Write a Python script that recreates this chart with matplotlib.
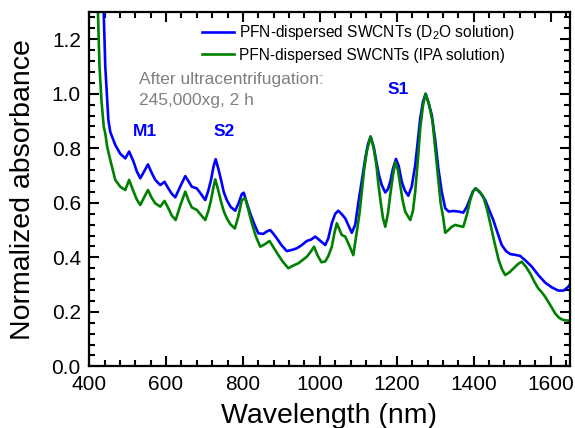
import matplotlib
matplotlib.use('Agg')
import matplotlib.pyplot as plt
from matplotlib.ticker import MultipleLocator

plt.rcParams['font.family'] = ['Liberation Sans', 'DejaVu Sans']
plt.rcParams['mathtext.fontset'] = 'custom'
plt.rcParams['mathtext.rm'] = 'Liberation Sans'

# PFN-dispersed SWCNTs in D2O (blue)
wl_d2o = [430, 438, 442, 447, 450, 455, 468, 481, 494, 504, 515, 524, 533, 543, 553,
          562, 572, 585, 596, 606, 615, 624, 637, 650, 658, 667, 680, 691, 702, 710,
          717, 723, 729, 736, 743, 750, 758, 768, 780, 789, 797, 802, 810, 819, 830,
          840, 853, 862, 871, 880, 888, 900, 914, 927, 940, 953, 966, 977, 988, 1000,
          1014, 1022, 1031, 1040, 1048, 1057, 1066, 1075, 1083, 1092, 1100, 1109,
          1118, 1125, 1132, 1140, 1147, 1154, 1161, 1170, 1177, 1183, 1190, 1198,
          1205, 1213, 1221, 1230, 1239, 1248, 1255, 1261, 1268, 1275, 1283, 1291,
          1300, 1308, 1317, 1326, 1335, 1347, 1360, 1373, 1382, 1391, 1398, 1405,
          1418, 1430, 1440, 1451, 1462, 1473, 1484, 1495, 1508, 1521, 1535, 1551,
          1568, 1586, 1603, 1620, 1634, 1646, 1650]
abs_d2o = [1.60, 1.295, 1.10, 0.977, 0.904, 0.860, 0.812, 0.780, 0.763, 0.788, 0.753,
           0.715, 0.690, 0.715, 0.741, 0.712, 0.684, 0.665, 0.677, 0.653, 0.633, 0.620,
           0.660, 0.698, 0.680, 0.659, 0.653, 0.632, 0.610, 0.645, 0.684, 0.730, 0.760,
           0.725, 0.684, 0.640, 0.610, 0.585, 0.571, 0.600, 0.632, 0.637, 0.600, 0.561,
           0.520, 0.488, 0.486, 0.495, 0.500, 0.485, 0.470, 0.445, 0.423, 0.427, 0.433,
           0.445, 0.460, 0.465, 0.476, 0.462, 0.445, 0.470, 0.525, 0.560, 0.571, 0.558,
           0.543, 0.515, 0.490, 0.520, 0.600, 0.680, 0.763, 0.815, 0.843, 0.805, 0.751,
           0.700, 0.665, 0.638, 0.650, 0.677, 0.725, 0.761, 0.735, 0.677, 0.645, 0.626,
           0.660, 0.739, 0.830, 0.910, 0.970, 1.000, 0.965, 0.922, 0.830, 0.727, 0.640,
           0.580, 0.568, 0.570, 0.568, 0.564, 0.585, 0.617, 0.642, 0.653, 0.635, 0.610,
           0.575, 0.537, 0.490, 0.445, 0.423, 0.412, 0.409, 0.405, 0.388, 0.366, 0.335,
           0.307, 0.290, 0.278, 0.278, 0.292, 0.300]

# PFN-dispersed SWCNTs in IPA (green)
wl_ipa = [418, 423, 427, 432, 438, 442, 447, 455, 468, 481, 494, 504, 515, 524, 533,
          543, 553, 562, 572, 585, 596, 606, 615, 625, 637, 650, 658, 667, 680, 691,
          702, 710, 717, 723, 728, 736, 743, 750, 758, 768, 779, 788, 797, 806, 814,
          823, 834, 845, 857, 869, 878, 888, 903, 918, 931, 944, 955, 966, 976, 985,
          993, 1004, 1014, 1022, 1031, 1038, 1044, 1050, 1057, 1066, 1076, 1087, 1096,
          1103, 1109, 1115, 1122, 1132, 1140, 1147, 1152, 1158, 1164, 1170, 1177,
          1183, 1190, 1196, 1203, 1209, 1215, 1222, 1235, 1242, 1248, 1255, 1261,
          1268, 1275, 1284, 1293, 1300, 1308, 1314, 1321, 1326, 1334, 1343, 1352,
          1362, 1373, 1382, 1391, 1398, 1405, 1415, 1425, 1434, 1443, 1454, 1465,
          1474, 1482, 1493, 1504, 1515, 1525, 1536, 1547, 1558, 1568, 1577, 1586,
          1599, 1612, 1622, 1633, 1650]
abs_ipa = [1.60, 1.295, 1.10, 0.977, 0.879, 0.855, 0.805, 0.757, 0.684, 0.659, 0.647,
           0.684, 0.643, 0.612, 0.592, 0.620, 0.647, 0.620, 0.598, 0.586, 0.607, 0.580,
           0.553, 0.537, 0.590, 0.641, 0.610, 0.583, 0.574, 0.555, 0.537, 0.570, 0.610,
           0.655, 0.686, 0.645, 0.604, 0.570, 0.543, 0.520, 0.506, 0.550, 0.610, 0.617,
           0.575, 0.525, 0.475, 0.439, 0.448, 0.460, 0.440, 0.417, 0.385, 0.360, 0.370,
           0.378, 0.390, 0.402, 0.420, 0.439, 0.410, 0.382, 0.385, 0.405, 0.439, 0.490,
           0.525, 0.505, 0.482, 0.476, 0.445, 0.408, 0.494, 0.560, 0.641, 0.720, 0.788,
           0.843, 0.800, 0.739, 0.670, 0.604, 0.545, 0.512, 0.560, 0.629, 0.700, 0.749,
           0.720, 0.665, 0.610, 0.567, 0.537, 0.570, 0.641, 0.760, 0.873, 0.955, 1.000,
           0.960, 0.898, 0.800, 0.690, 0.600, 0.543, 0.490, 0.500, 0.512, 0.519, 0.515,
           0.512, 0.555, 0.610, 0.640, 0.653, 0.642, 0.622, 0.580, 0.525, 0.455, 0.390,
           0.355, 0.335, 0.345, 0.360, 0.375, 0.384, 0.365, 0.341, 0.310, 0.286, 0.272,
           0.255, 0.225, 0.194, 0.178, 0.170, 0.167]

fig = plt.figure(figsize=(5.75, 4.28), dpi=100)
ax = fig.add_axes([0.155, 0.144, 0.836, 0.828])

ax.plot(wl_d2o, abs_d2o, color='#0000ff', lw=1.9,
        label='PFN-dispersed SWCNTs (D$_2$O solution)')
ax.plot(wl_ipa, abs_ipa, color='#008000', lw=1.9,
        label='PFN-dispersed SWCNTs (IPA solution)')

ax.set_xlim(400, 1650)
ax.set_ylim(0, 1.3)
ax.xaxis.set_major_locator(MultipleLocator(200))
ax.xaxis.set_minor_locator(MultipleLocator(40))
ax.yaxis.set_major_locator(MultipleLocator(0.2))
ax.yaxis.set_minor_locator(MultipleLocator(0.04))
ax.yaxis.set_major_formatter(plt.FormatStrFormatter('%.1f'))
ax.tick_params(which='both', direction='in', top=True, right=True, width=1.5)
ax.tick_params(which='major', length=7, labelsize=15)
ax.tick_params(axis='x', which='major', pad=6)
ax.tick_params(axis='y', which='major', pad=6)
ax.tick_params(which='minor', length=4)
for s in ax.spines.values():
    s.set_linewidth(1.6)

ax.set_xlabel('Wavelength (nm)', fontsize=20.5, labelpad=7)
ax.set_ylabel('Normalized absorbance', fontsize=20.5, labelpad=11)

ax.legend(loc='upper right', bbox_to_anchor=(0.885, 0.968), frameon=False,
          fontsize=11.2, handlelength=2.1, handletextpad=0.3, labelspacing=0.35,
          borderaxespad=0, borderpad=0)

ax.text(529, 1.053, 'After ultracentrifugation:', color='gray', fontsize=12.5,
        va='center')
ax.text(529, 0.977, '245,000xg, 2 h', color='gray', fontsize=12.5, va='center')
ax.text(546, 0.861, 'M1', color='#0000ff', fontsize=12.5, fontweight='bold',
        ha='center', va='center')
ax.text(750, 0.861, 'S2', color='#0000ff', fontsize=12.5, fontweight='bold',
        ha='center', va='center')
ax.text(1204, 1.017, 'S1', color='#0000ff', fontsize=12.5, fontweight='bold',
        ha='center', va='center')

fig.savefig('out.png', dpi=100)
